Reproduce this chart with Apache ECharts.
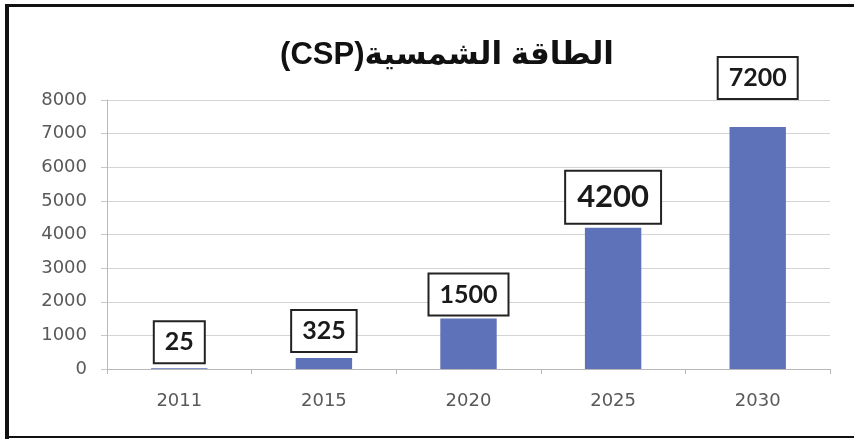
<!DOCTYPE html>
<html>
<head>
<meta charset="utf-8">
<script src="https://cdn.jsdelivr.net/npm/echarts@6/dist/echarts.min.js"></script>
<style>
html,body{margin:0;padding:0;background:#fff;}
#chart{width:854px;height:439px;}
</style>
</head>
<body>
<div id="chart" dir="rtl"></div>
<script>
// ---- data ----
var titleText = 'الطاقة الشمسية(CSP)';
var categories = ['2011', '2015', '2020', '2025', '2030'];
var values = [25, 325, 1500, 4200, 7200];
var yTicks = [0, 1000, 2000, 3000, 4000, 5000, 6000, 7000, 8000];

// ---- label layout (not data) ----
var labelGap = [6, 7, 4, 5, 29];
var labelFont = [25, 25, 25, 31, 25];

var chart = echarts.init(document.getElementById('chart'), null, {renderer: 'canvas'});

var seriesData = values.map(function (v, i) {
  var fs = labelFont[i];
  var big = fs > 28;
  return {
    value: v,
    label: {
      distance: labelGap[i],
      fontSize: fs,
      lineHeight: big ? 35 : 28,
      padding: big ? [8, 11, 8, 11] : [6, 10, 6, 10]
    }
  };
});

var option = {
  animation: false,
  backgroundColor: '#ffffff',
  title: {
    text: titleText,
    left: 442,
    top: 35,
    textAlign: 'center',
    textStyle: {
      fontFamily: 'Liberation Sans, DejaVu Sans, sans-serif',
      fontWeight: 'bold',
      fontSize: 31,
      color: '#111111'
    }
  },
  grid: {left: 107, right: 24, top: 100, bottom: 70, containLabel: false},
  xAxis: {
    type: 'category',
    data: categories,
    axisLine: {show: true, lineStyle: {color: '#b8b8b8', width: 1}},
    axisTick: {show: true, length: 5, alignWithLabel: false, lineStyle: {color: '#b8b8b8'}},
    axisLabel: {
      margin: 23,
      fontFamily: 'DejaVu Sans',
      fontSize: 18,
      color: '#595959'
    },
    splitLine: {show: false}
  },
  yAxis: {
    type: 'value',
    min: yTicks[0],
    max: yTicks[yTicks.length - 1],
    interval: yTicks[1] - yTicks[0],
    axisLine: {show: true, lineStyle: {color: '#b8b8b8', width: 1}},
    axisTick: {show: true, length: 6, lineStyle: {color: '#c8c8c8'}},
    axisLabel: {
      margin: 20,
      fontFamily: 'DejaVu Sans',
      fontSize: 18,
      color: '#595959',
      formatter: function (v) { return String(v); }
    },
    splitLine: {show: true, lineStyle: {color: '#d4d4d4', width: 1}}
  },
  series: [{
    type: 'bar',
    data: seriesData,
    barWidth: '39%',
    itemStyle: {color: '#5D72B8'},
    label: {
      show: true,
      position: 'top',
      fontFamily: 'Lato, Open Sans, sans-serif',
      fontWeight: 'bold',
      color: '#1a1a1a',
      backgroundColor: '#ffffff',
      borderColor: '#222222',
      borderWidth: 2
    }
  }],
  graphic: [
    {type: 'line', silent: true, shape: {x1: 5, y1: 5.5, x2: 854, y2: 5.5}, style: {stroke: '#111', lineWidth: 3}},
    {type: 'line', silent: true, shape: {x1: 7, y1: 4, x2: 7, y2: 439}, style: {stroke: '#111', lineWidth: 4}},
    {type: 'line', silent: true, shape: {x1: 5, y1: 437, x2: 854, y2: 437}, style: {stroke: '#111', lineWidth: 2}}
  ]
};

chart.setOption(option);
</script>
</body>
</html>
